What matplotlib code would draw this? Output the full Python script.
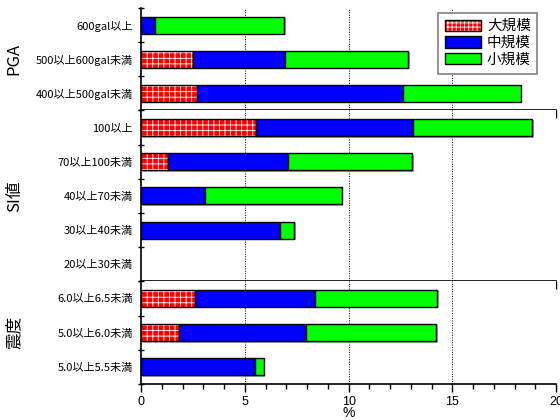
import numpy as np
import matplotlib
matplotlib.use('Agg')
import matplotlib.pyplot as plt
import matplotlib.patheffects as pe
from matplotlib.patches import Patch
from matplotlib.legend_handler import HandlerTuple

plt.rcParams['font.family'] = ['Noto Sans CJK JP', 'DejaVu Sans']
plt.rcParams['hatch.linewidth'] = 0.6

# data, each group listed top -> bottom (%)
pga_cats = ['600gal以上', '500以上600gal未満', '400以上500gal未満']
pga_large = [0.0, 2.5, 2.7]
pga_mid = [0.67, 4.45, 9.9]
pga_small = [6.23, 5.93, 5.7]

si_cats = ['100以上', '70以上100未満', '40以上70未満', '30以上40未満', '20以上30未満']
si_large = [5.53, 1.3, 0.0, 0.0, 0.0]
si_mid = [7.57, 5.77, 3.07, 6.7, 0.0]
si_small = [5.75, 6.0, 6.59, 0.68, 0.0]

shindo_cats = ['6.0以上6.5未満', '5.0以上6.0未満', '5.0以上5.5未満']
shindo_large = [2.6, 1.83, 0.0]
shindo_mid = [5.8, 6.13, 5.48]
shindo_small = [5.88, 6.27, 0.43]

groups = [('PGA', pga_cats, pga_large, pga_mid, pga_small),
          ('SI値', si_cats, si_large, si_mid, si_small),
          ('震度', shindo_cats, shindo_large, shindo_mid, shindo_small)]

fig, axes = plt.subplots(3, 1, figsize=(5.6, 4.2), dpi=100, sharex=True,
                         gridspec_kw={'height_ratios': [3, 5, 3], 'hspace': 0})
fig.subplots_adjust(left=0.252, right=0.993, top=0.981, bottom=0.086)

shadow = [pe.SimplePatchShadow(offset=(1, -1), shadow_rgbFace='gray', alpha=0.7), pe.Normal()]
h = 0.5

for ax, (name, cats, large, mid, small) in zip(axes, groups):
    n = len(cats)
    y = np.arange(n)
    large = np.array(large); mid = np.array(mid); small = np.array(small)
    # red hatched part: white hatch on red, black outline drawn separately
    ax.barh(y, large, height=h, color='#ff0000', edgecolor='white', hatch='+++',
            linewidth=0, zorder=3, path_effects=shadow)
    ax.barh(y, large, height=h, fill=False, edgecolor='black', linewidth=1, zorder=4)
    ax.barh(y, mid, left=large, height=h, color='#0000ff', edgecolor='black', linewidth=1,
            zorder=3, path_effects=shadow)
    ax.barh(y, small, left=large + mid, height=h, color='#00ff00', edgecolor='black',
            linewidth=1, zorder=3, path_effects=shadow)
    # hide empty bars (zero width)
    for p in ax.patches:
        if p.get_width() <= 0:
            p.set_visible(False)

    ax.set_ylim(n - 0.5, -0.5)
    ax.set_yticks(y)
    ax.set_yticklabels(cats, fontsize=8)
    ax.set_yticks(np.arange(n + 1) - 0.5, minor=True)
    ax.tick_params(axis='y', which='major', length=0, pad=6)
    ax.tick_params(axis='y', which='minor', length=5, direction='inout', width=1)
    ax.set_ylabel(name, fontsize=12)
    ax.yaxis.set_label_coords(-0.285, 0.5)

    ax.set_xlim(0, 20)
    ax.set_xticks([0, 5, 10, 15, 20])
    ax.set_xticks(np.arange(0, 21, 1), minor=True)
    ax.tick_params(axis='x', which='major', length=6, direction='out', width=1,
                   labelsize=9, pad=2.5)
    ax.tick_params(axis='x', which='minor', length=3.5, direction='out', width=1)
    for s in ['top', 'right']:
        ax.spines[s].set_visible(False)
    ax.spines['left'].set_linewidth(1.2)
    ax.spines['bottom'].set_linewidth(1.2)
    for gx in [5, 10, 15]:
        ax.axvline(gx, color='black', linestyle=(0, (1, 1.5)), linewidth=0.7, zorder=1)

for lab in axes[-1].get_xticklabels():
    lab.set_family(['Liberation Sans'])
axes[-1].set_xlabel('%', fontsize=10, labelpad=-1, family=['Liberation Sans'])

red_fill = Patch(facecolor='#ff0000', edgecolor='white', hatch='++++', linewidth=0)
red_edge = Patch(fill=False, edgecolor='black', linewidth=1)
blue = Patch(facecolor='#0000ff', edgecolor='black', linewidth=1)
green = Patch(facecolor='#00ff00', edgecolor='black', linewidth=1)
leg = axes[0].legend([(red_fill, red_edge), blue, green], ['大規模', '中規模', '小規模'],
                     handler_map={tuple: HandlerTuple(ndivide=1, pad=0)},
                     loc='upper right', bbox_to_anchor=(0.955, 0.955), borderaxespad=0,
                     fontsize=10.5, fancybox=False, framealpha=1, edgecolor='gray',
                     handlelength=2.5, handleheight=0.8, labelspacing=0.2,
                     borderpad=0.45, handletextpad=0.4)
leg.set_zorder(10)
leg.get_frame().set_linewidth(1.2)

plt.savefig('out.png', dpi=100)
